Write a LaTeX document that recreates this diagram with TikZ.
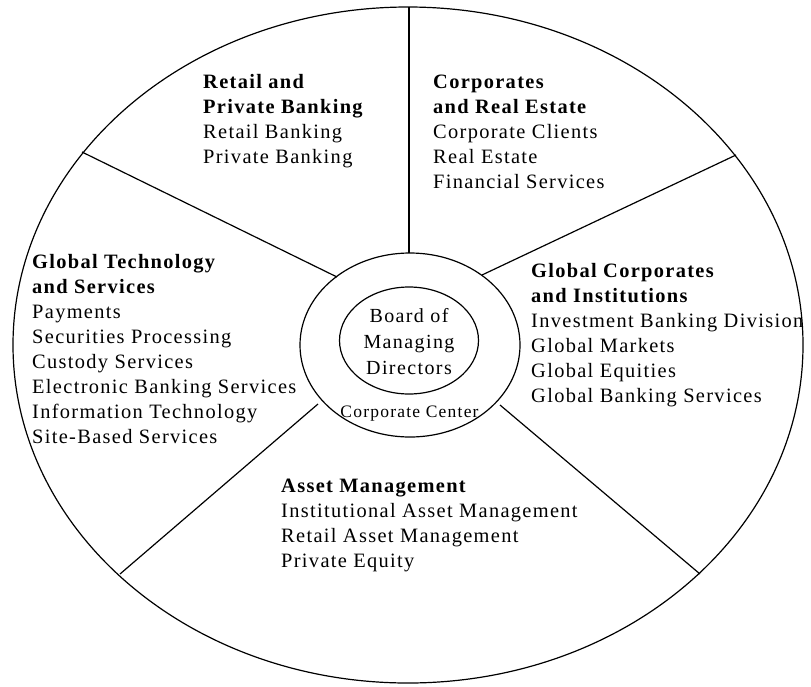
\documentclass[tikz,border=0pt]{standalone}
\usepackage{fontspec}
\setmainfont{Liberation Serif}[LetterSpace=7]
\newfontfamily\blkfont{Liberation Serif}[LetterSpace=6.5]
\usetikzlibrary{shapes.geometric}
\tikzset{
  ring/.style={draw, ellipse, inner sep=0pt, line width=1.2pt},
  spoke/.style={line width=1.2pt},
  blk/.style={anchor=base west, align=left, inner sep=0pt, font=\blkfont\fontsize{20.4}{25}\selectfont},
}
\begin{document}
\begin{tikzpicture}[x=1pt,y=-1pt]
\useasboundingbox (0,0) rectangle (811,686);
\node[ring, minimum width=790pt, minimum height=676pt] (outer) at (408,345) {};
\node[ring, minimum width=220pt, minimum height=184pt] (mid) at (410,345) {};
\node[ring, minimum width=139pt, minimum height=107pt] (inner) at (409,340.5) {};
\coordinate (s1o) at (409,7);    \coordinate (s1i) at (409,253);
\coordinate (s2o) at (82,152);   \coordinate (s2i) at (337,277);
\coordinate (s3o) at (736,155);  \coordinate (s3i) at (482,275);
\coordinate (s4o) at (120,574);  \coordinate (s4i) at (318,404);
\coordinate (s5o) at (700,574);  \coordinate (s5i) at (500,405);
\draw[spoke] (s1o) -- (s1i);
\draw[spoke] (s2o) -- (s2i);
\draw[spoke] (s3o) -- (s3i);
\draw[spoke] (s4o) -- (s4i);
\draw[spoke] (s5o) -- (s5i);
% base anchor of a multi-line node = baseline of its last line
\node[blk] (rpb) at (203,163) {\textbf{Retail and}\\\textbf{Private Banking}\\Retail Banking\\Private Banking};
\node[blk] (cre) at (433,188) {\textbf{Corporates}\\\textbf{and Real Estate}\\Corporate Clients\\Real Estate\\Financial Services};
\node[blk] (gts) at (32,443) {\textbf{Global Technology}\\\textbf{and Services}\\Payments\\Securities Processing\\Custody Services\\Electronic Banking Services\\Information Technology\\Site-Based Services};
\node[blk] (gci) at (531,402) {\textbf{Global Corporates}\\\textbf{and Institutions}\\Investment Banking Division\\Global Markets\\Global Equities\\Global Banking Services};
\node[blk] (am) at (281,567) {\textbf{Asset Management}\\Institutional Asset Management\\Retail Asset Management\\Private Equity};
\node[anchor=base, align=center, inner sep=0pt, font=\fontsize{20}{26}\selectfont] (bmd) at (409,374) {Board of\\Managing\\Directors};
\node[anchor=base, inner sep=0pt, font=\fontsize{17.5}{20}\selectfont] (cc) at (409.5,417) {Corporate Center};
\end{tikzpicture}
\end{document}
